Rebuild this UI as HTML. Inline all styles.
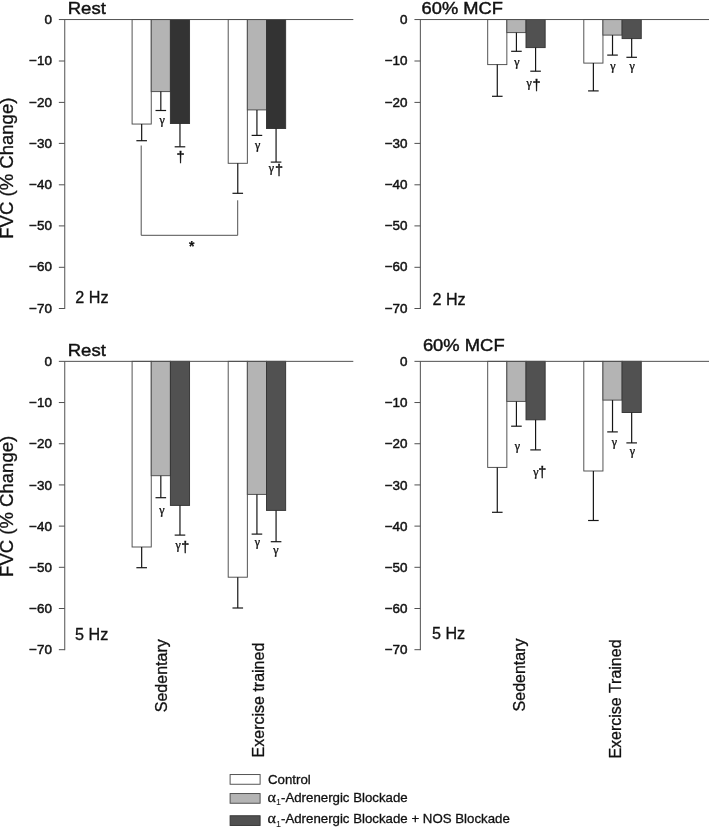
<!DOCTYPE html>
<html lang="en">
<head>
<meta charset="utf-8">
<title>FVC (% Change) figure</title>
<style>
html, body { margin: 0; padding: 0; background: #ffffff; }
body { width: 709px; height: 828px; overflow: hidden; }
svg { display: block; }
text { white-space: pre; }
</style>
</head>
<body>
<svg width="709" height="828" viewBox="0 0 709 828">
<rect x="0" y="0" width="709" height="828" fill="#ffffff"/>
<rect x="132.1" y="19.55" width="19.15" height="104.5" fill="#ffffff" stroke="#4c4c4c" stroke-width="0.95"/>
<rect x="151.25" y="19.55" width="19.15" height="72.05" fill="#b4b4b4" stroke="#4c4c4c" stroke-width="0.95"/>
<rect x="170.4" y="19.55" width="19.15" height="103.95" fill="#333333" stroke="#353535" stroke-width="0.95"/>
<line x1="141.67" y1="124.05" x2="141.67" y2="140.7" stroke="#161616" stroke-width="1.2"/>
<line x1="136.37" y1="140.7" x2="146.97" y2="140.7" stroke="#161616" stroke-width="1.2"/>
<line x1="160.82" y1="91.6" x2="160.82" y2="110.5" stroke="#161616" stroke-width="1.2"/>
<line x1="155.52" y1="110.5" x2="166.12" y2="110.5" stroke="#161616" stroke-width="1.2"/>
<line x1="179.97" y1="123.5" x2="179.97" y2="146.8" stroke="#161616" stroke-width="1.2"/>
<line x1="174.67" y1="146.8" x2="185.27" y2="146.8" stroke="#161616" stroke-width="1.2"/>
<rect x="228.2" y="19.55" width="19.15" height="143.75" fill="#ffffff" stroke="#4c4c4c" stroke-width="0.95"/>
<rect x="247.35" y="19.55" width="19.15" height="90.35" fill="#b4b4b4" stroke="#4c4c4c" stroke-width="0.95"/>
<rect x="266.5" y="19.55" width="19.15" height="108.95" fill="#333333" stroke="#353535" stroke-width="0.95"/>
<line x1="237.77" y1="163.3" x2="237.77" y2="193.3" stroke="#161616" stroke-width="1.2"/>
<line x1="232.47" y1="193.3" x2="243.07" y2="193.3" stroke="#161616" stroke-width="1.2"/>
<line x1="256.93" y1="109.9" x2="256.93" y2="135.4" stroke="#161616" stroke-width="1.2"/>
<line x1="251.62" y1="135.4" x2="262.23" y2="135.4" stroke="#161616" stroke-width="1.2"/>
<line x1="276.07" y1="128.5" x2="276.07" y2="162.1" stroke="#161616" stroke-width="1.2"/>
<line x1="270.77" y1="162.1" x2="281.38" y2="162.1" stroke="#161616" stroke-width="1.2"/>
<line x1="64.75" y1="19.55" x2="64.75" y2="309" stroke="#505050" stroke-width="1"/>
<line x1="58.85" y1="19.55" x2="353.3" y2="19.55" stroke="#505050" stroke-width="1"/>
<line x1="58.85" y1="61" x2="64.75" y2="61" stroke="#505050" stroke-width="1"/>
<line x1="58.85" y1="102.4" x2="64.75" y2="102.4" stroke="#505050" stroke-width="1"/>
<line x1="58.85" y1="143.4" x2="64.75" y2="143.4" stroke="#505050" stroke-width="1"/>
<line x1="58.85" y1="184.8" x2="64.75" y2="184.8" stroke="#505050" stroke-width="1"/>
<line x1="58.85" y1="225.9" x2="64.75" y2="225.9" stroke="#505050" stroke-width="1"/>
<line x1="58.85" y1="267.3" x2="64.75" y2="267.3" stroke="#505050" stroke-width="1"/>
<line x1="58.85" y1="308.5" x2="64.75" y2="308.5" stroke="#505050" stroke-width="1"/>
<text transform="translate(51.9 23.65) scale(1.035 1)" font-family="'Liberation Sans', Arial, Helvetica, sans-serif" font-size="13" font-weight="normal" font-style="normal" text-anchor="end" fill="#111" stroke="#111" stroke-width="0.45">0</text>
<text transform="translate(51.9 65.1) scale(1.035 1)" font-family="'Liberation Sans', Arial, Helvetica, sans-serif" font-size="13" font-weight="normal" font-style="normal" text-anchor="end" fill="#111" stroke="#111" stroke-width="0.45">−10</text>
<text transform="translate(51.9 106.5) scale(1.035 1)" font-family="'Liberation Sans', Arial, Helvetica, sans-serif" font-size="13" font-weight="normal" font-style="normal" text-anchor="end" fill="#111" stroke="#111" stroke-width="0.45">−20</text>
<text transform="translate(51.9 147.5) scale(1.035 1)" font-family="'Liberation Sans', Arial, Helvetica, sans-serif" font-size="13" font-weight="normal" font-style="normal" text-anchor="end" fill="#111" stroke="#111" stroke-width="0.45">−30</text>
<text transform="translate(51.9 188.9) scale(1.035 1)" font-family="'Liberation Sans', Arial, Helvetica, sans-serif" font-size="13" font-weight="normal" font-style="normal" text-anchor="end" fill="#111" stroke="#111" stroke-width="0.45">−40</text>
<text transform="translate(51.9 230) scale(1.035 1)" font-family="'Liberation Sans', Arial, Helvetica, sans-serif" font-size="13" font-weight="normal" font-style="normal" text-anchor="end" fill="#111" stroke="#111" stroke-width="0.45">−50</text>
<text transform="translate(51.9 271.4) scale(1.035 1)" font-family="'Liberation Sans', Arial, Helvetica, sans-serif" font-size="13" font-weight="normal" font-style="normal" text-anchor="end" fill="#111" stroke="#111" stroke-width="0.45">−60</text>
<text transform="translate(51.9 312.6) scale(1.035 1)" font-family="'Liberation Sans', Arial, Helvetica, sans-serif" font-size="13" font-weight="normal" font-style="normal" text-anchor="end" fill="#111" stroke="#111" stroke-width="0.45">−70</text>
<text transform="translate(67.7 13.85) scale(1.086 1)" font-family="'Liberation Sans', Arial, Helvetica, sans-serif" font-size="17.1" font-weight="normal" font-style="normal" text-anchor="start" fill="#111" stroke="#111" stroke-width="0.45">Rest</text>
<text transform="translate(75.3 303) scale(1.01 1)" font-family="'Liberation Sans', Arial, Helvetica, sans-serif" font-size="16" font-weight="normal" font-style="normal" text-anchor="start" fill="#111" stroke="#111" stroke-width="0.3">2 Hz</text>
<rect x="487.7" y="19.55" width="19.15" height="45.05" fill="#ffffff" stroke="#4c4c4c" stroke-width="0.95"/>
<rect x="506.85" y="19.55" width="19.15" height="13.05" fill="#b4b4b4" stroke="#4c4c4c" stroke-width="0.95"/>
<rect x="526" y="19.55" width="19.15" height="28.05" fill="#515151" stroke="#353535" stroke-width="0.95"/>
<line x1="497.28" y1="64.6" x2="497.28" y2="96.3" stroke="#161616" stroke-width="1.2"/>
<line x1="491.98" y1="96.3" x2="502.58" y2="96.3" stroke="#161616" stroke-width="1.2"/>
<line x1="516.43" y1="32.6" x2="516.43" y2="51.3" stroke="#161616" stroke-width="1.2"/>
<line x1="511.13" y1="51.3" x2="521.73" y2="51.3" stroke="#161616" stroke-width="1.2"/>
<line x1="535.58" y1="47.6" x2="535.58" y2="71.2" stroke="#161616" stroke-width="1.2"/>
<line x1="530.28" y1="71.2" x2="540.88" y2="71.2" stroke="#161616" stroke-width="1.2"/>
<rect x="583.8" y="19.55" width="19.15" height="43.55" fill="#ffffff" stroke="#4c4c4c" stroke-width="0.95"/>
<rect x="602.95" y="19.55" width="19.15" height="15.55" fill="#b4b4b4" stroke="#4c4c4c" stroke-width="0.95"/>
<rect x="622.1" y="19.55" width="19.15" height="19.05" fill="#515151" stroke="#353535" stroke-width="0.95"/>
<line x1="593.38" y1="63.1" x2="593.38" y2="90.9" stroke="#161616" stroke-width="1.2"/>
<line x1="588.08" y1="90.9" x2="598.67" y2="90.9" stroke="#161616" stroke-width="1.2"/>
<line x1="612.52" y1="35.1" x2="612.52" y2="55.1" stroke="#161616" stroke-width="1.2"/>
<line x1="607.23" y1="55.1" x2="617.82" y2="55.1" stroke="#161616" stroke-width="1.2"/>
<line x1="631.67" y1="38.6" x2="631.67" y2="57.3" stroke="#161616" stroke-width="1.2"/>
<line x1="626.38" y1="57.3" x2="636.97" y2="57.3" stroke="#161616" stroke-width="1.2"/>
<line x1="420.35" y1="19.55" x2="420.35" y2="309" stroke="#505050" stroke-width="1"/>
<line x1="414.45" y1="19.55" x2="709.5" y2="19.55" stroke="#505050" stroke-width="1"/>
<line x1="414.45" y1="61" x2="420.35" y2="61" stroke="#505050" stroke-width="1"/>
<line x1="414.45" y1="102.4" x2="420.35" y2="102.4" stroke="#505050" stroke-width="1"/>
<line x1="414.45" y1="143.4" x2="420.35" y2="143.4" stroke="#505050" stroke-width="1"/>
<line x1="414.45" y1="184.8" x2="420.35" y2="184.8" stroke="#505050" stroke-width="1"/>
<line x1="414.45" y1="225.9" x2="420.35" y2="225.9" stroke="#505050" stroke-width="1"/>
<line x1="414.45" y1="267.3" x2="420.35" y2="267.3" stroke="#505050" stroke-width="1"/>
<line x1="414.45" y1="308.5" x2="420.35" y2="308.5" stroke="#505050" stroke-width="1"/>
<text transform="translate(407.5 23.65) scale(1.035 1)" font-family="'Liberation Sans', Arial, Helvetica, sans-serif" font-size="13" font-weight="normal" font-style="normal" text-anchor="end" fill="#111" stroke="#111" stroke-width="0.45">0</text>
<text transform="translate(407.5 65.1) scale(1.035 1)" font-family="'Liberation Sans', Arial, Helvetica, sans-serif" font-size="13" font-weight="normal" font-style="normal" text-anchor="end" fill="#111" stroke="#111" stroke-width="0.45">−10</text>
<text transform="translate(407.5 106.5) scale(1.035 1)" font-family="'Liberation Sans', Arial, Helvetica, sans-serif" font-size="13" font-weight="normal" font-style="normal" text-anchor="end" fill="#111" stroke="#111" stroke-width="0.45">−20</text>
<text transform="translate(407.5 147.5) scale(1.035 1)" font-family="'Liberation Sans', Arial, Helvetica, sans-serif" font-size="13" font-weight="normal" font-style="normal" text-anchor="end" fill="#111" stroke="#111" stroke-width="0.45">−30</text>
<text transform="translate(407.5 188.9) scale(1.035 1)" font-family="'Liberation Sans', Arial, Helvetica, sans-serif" font-size="13" font-weight="normal" font-style="normal" text-anchor="end" fill="#111" stroke="#111" stroke-width="0.45">−40</text>
<text transform="translate(407.5 230) scale(1.035 1)" font-family="'Liberation Sans', Arial, Helvetica, sans-serif" font-size="13" font-weight="normal" font-style="normal" text-anchor="end" fill="#111" stroke="#111" stroke-width="0.45">−50</text>
<text transform="translate(407.5 271.4) scale(1.035 1)" font-family="'Liberation Sans', Arial, Helvetica, sans-serif" font-size="13" font-weight="normal" font-style="normal" text-anchor="end" fill="#111" stroke="#111" stroke-width="0.45">−60</text>
<text transform="translate(407.5 312.6) scale(1.035 1)" font-family="'Liberation Sans', Arial, Helvetica, sans-serif" font-size="13" font-weight="normal" font-style="normal" text-anchor="end" fill="#111" stroke="#111" stroke-width="0.45">−70</text>
<text transform="translate(421.6 13.55) scale(1.07 1)" font-family="'Liberation Sans', Arial, Helvetica, sans-serif" font-size="17.1" font-weight="normal" font-style="normal" text-anchor="start" fill="#111" stroke="#111" stroke-width="0.45">60% MCF</text>
<text transform="translate(432.4 305) scale(1.01 1)" font-family="'Liberation Sans', Arial, Helvetica, sans-serif" font-size="16" font-weight="normal" font-style="normal" text-anchor="start" fill="#111" stroke="#111" stroke-width="0.3">2 Hz</text>
<rect x="132.1" y="361.35" width="19.15" height="185.65" fill="#ffffff" stroke="#4c4c4c" stroke-width="0.95"/>
<rect x="151.25" y="361.35" width="19.15" height="114.35" fill="#b4b4b4" stroke="#4c4c4c" stroke-width="0.95"/>
<rect x="170.4" y="361.35" width="19.15" height="144.05" fill="#515151" stroke="#353535" stroke-width="0.95"/>
<line x1="141.67" y1="547" x2="141.67" y2="567.7" stroke="#161616" stroke-width="1.2"/>
<line x1="136.37" y1="567.7" x2="146.97" y2="567.7" stroke="#161616" stroke-width="1.2"/>
<line x1="160.82" y1="475.7" x2="160.82" y2="497.7" stroke="#161616" stroke-width="1.2"/>
<line x1="155.52" y1="497.7" x2="166.12" y2="497.7" stroke="#161616" stroke-width="1.2"/>
<line x1="179.97" y1="505.4" x2="179.97" y2="535.1" stroke="#161616" stroke-width="1.2"/>
<line x1="174.67" y1="535.1" x2="185.27" y2="535.1" stroke="#161616" stroke-width="1.2"/>
<rect x="228.2" y="361.35" width="19.15" height="215.85" fill="#ffffff" stroke="#4c4c4c" stroke-width="0.95"/>
<rect x="247.35" y="361.35" width="19.15" height="133.05" fill="#b4b4b4" stroke="#4c4c4c" stroke-width="0.95"/>
<rect x="266.5" y="361.35" width="19.15" height="149.05" fill="#515151" stroke="#353535" stroke-width="0.95"/>
<line x1="237.77" y1="577.2" x2="237.77" y2="608" stroke="#161616" stroke-width="1.2"/>
<line x1="232.47" y1="608" x2="243.07" y2="608" stroke="#161616" stroke-width="1.2"/>
<line x1="256.93" y1="494.4" x2="256.93" y2="534.1" stroke="#161616" stroke-width="1.2"/>
<line x1="251.62" y1="534.1" x2="262.23" y2="534.1" stroke="#161616" stroke-width="1.2"/>
<line x1="276.07" y1="510.4" x2="276.07" y2="541.7" stroke="#161616" stroke-width="1.2"/>
<line x1="270.77" y1="541.7" x2="281.38" y2="541.7" stroke="#161616" stroke-width="1.2"/>
<line x1="64.75" y1="361.35" x2="64.75" y2="650.2" stroke="#505050" stroke-width="1"/>
<line x1="58.85" y1="361.35" x2="353.3" y2="361.35" stroke="#505050" stroke-width="1"/>
<line x1="58.85" y1="402.54" x2="64.75" y2="402.54" stroke="#505050" stroke-width="1"/>
<line x1="58.85" y1="443.74" x2="64.75" y2="443.74" stroke="#505050" stroke-width="1"/>
<line x1="58.85" y1="484.93" x2="64.75" y2="484.93" stroke="#505050" stroke-width="1"/>
<line x1="58.85" y1="526.12" x2="64.75" y2="526.12" stroke="#505050" stroke-width="1"/>
<line x1="58.85" y1="567.31" x2="64.75" y2="567.31" stroke="#505050" stroke-width="1"/>
<line x1="58.85" y1="608.51" x2="64.75" y2="608.51" stroke="#505050" stroke-width="1"/>
<line x1="58.85" y1="649.7" x2="64.75" y2="649.7" stroke="#505050" stroke-width="1"/>
<text transform="translate(51.9 365.95) scale(1.035 1)" font-family="'Liberation Sans', Arial, Helvetica, sans-serif" font-size="13" font-weight="normal" font-style="normal" text-anchor="end" fill="#111" stroke="#111" stroke-width="0.45">0</text>
<text transform="translate(51.9 407.14) scale(1.035 1)" font-family="'Liberation Sans', Arial, Helvetica, sans-serif" font-size="13" font-weight="normal" font-style="normal" text-anchor="end" fill="#111" stroke="#111" stroke-width="0.45">−10</text>
<text transform="translate(51.9 448.34) scale(1.035 1)" font-family="'Liberation Sans', Arial, Helvetica, sans-serif" font-size="13" font-weight="normal" font-style="normal" text-anchor="end" fill="#111" stroke="#111" stroke-width="0.45">−20</text>
<text transform="translate(51.9 489.53) scale(1.035 1)" font-family="'Liberation Sans', Arial, Helvetica, sans-serif" font-size="13" font-weight="normal" font-style="normal" text-anchor="end" fill="#111" stroke="#111" stroke-width="0.45">−30</text>
<text transform="translate(51.9 530.72) scale(1.035 1)" font-family="'Liberation Sans', Arial, Helvetica, sans-serif" font-size="13" font-weight="normal" font-style="normal" text-anchor="end" fill="#111" stroke="#111" stroke-width="0.45">−40</text>
<text transform="translate(51.9 571.91) scale(1.035 1)" font-family="'Liberation Sans', Arial, Helvetica, sans-serif" font-size="13" font-weight="normal" font-style="normal" text-anchor="end" fill="#111" stroke="#111" stroke-width="0.45">−50</text>
<text transform="translate(51.9 613.11) scale(1.035 1)" font-family="'Liberation Sans', Arial, Helvetica, sans-serif" font-size="13" font-weight="normal" font-style="normal" text-anchor="end" fill="#111" stroke="#111" stroke-width="0.45">−60</text>
<text transform="translate(51.9 654.3) scale(1.035 1)" font-family="'Liberation Sans', Arial, Helvetica, sans-serif" font-size="13" font-weight="normal" font-style="normal" text-anchor="end" fill="#111" stroke="#111" stroke-width="0.45">−70</text>
<text transform="translate(67.7 355.75) scale(1.086 1)" font-family="'Liberation Sans', Arial, Helvetica, sans-serif" font-size="17.1" font-weight="normal" font-style="normal" text-anchor="start" fill="#111" stroke="#111" stroke-width="0.45">Rest</text>
<text transform="translate(75 640.4) scale(1.01 1)" font-family="'Liberation Sans', Arial, Helvetica, sans-serif" font-size="16" font-weight="normal" font-style="normal" text-anchor="start" fill="#111" stroke="#111" stroke-width="0.3">5 Hz</text>
<rect x="487.7" y="361.35" width="19.15" height="106.05" fill="#ffffff" stroke="#4c4c4c" stroke-width="0.95"/>
<rect x="506.85" y="361.35" width="19.15" height="40.05" fill="#b4b4b4" stroke="#4c4c4c" stroke-width="0.95"/>
<rect x="526" y="361.35" width="19.15" height="58.45" fill="#515151" stroke="#353535" stroke-width="0.95"/>
<line x1="497.28" y1="467.4" x2="497.28" y2="512.3" stroke="#161616" stroke-width="1.2"/>
<line x1="491.98" y1="512.3" x2="502.58" y2="512.3" stroke="#161616" stroke-width="1.2"/>
<line x1="516.43" y1="401.4" x2="516.43" y2="426.2" stroke="#161616" stroke-width="1.2"/>
<line x1="511.13" y1="426.2" x2="521.73" y2="426.2" stroke="#161616" stroke-width="1.2"/>
<line x1="535.58" y1="419.8" x2="535.58" y2="449.9" stroke="#161616" stroke-width="1.2"/>
<line x1="530.28" y1="449.9" x2="540.88" y2="449.9" stroke="#161616" stroke-width="1.2"/>
<rect x="583.8" y="361.35" width="19.15" height="109.65" fill="#ffffff" stroke="#4c4c4c" stroke-width="0.95"/>
<rect x="602.95" y="361.35" width="19.15" height="38.75" fill="#b4b4b4" stroke="#4c4c4c" stroke-width="0.95"/>
<rect x="622.1" y="361.35" width="19.15" height="51.15" fill="#515151" stroke="#353535" stroke-width="0.95"/>
<line x1="593.38" y1="471" x2="593.38" y2="520.5" stroke="#161616" stroke-width="1.2"/>
<line x1="588.08" y1="520.5" x2="598.67" y2="520.5" stroke="#161616" stroke-width="1.2"/>
<line x1="612.52" y1="400.1" x2="612.52" y2="431.9" stroke="#161616" stroke-width="1.2"/>
<line x1="607.23" y1="431.9" x2="617.82" y2="431.9" stroke="#161616" stroke-width="1.2"/>
<line x1="631.67" y1="412.5" x2="631.67" y2="442.9" stroke="#161616" stroke-width="1.2"/>
<line x1="626.38" y1="442.9" x2="636.97" y2="442.9" stroke="#161616" stroke-width="1.2"/>
<line x1="420.35" y1="361.35" x2="420.35" y2="650.2" stroke="#505050" stroke-width="1"/>
<line x1="414.45" y1="361.35" x2="709.5" y2="361.35" stroke="#505050" stroke-width="1"/>
<line x1="414.45" y1="402.54" x2="420.35" y2="402.54" stroke="#505050" stroke-width="1"/>
<line x1="414.45" y1="443.74" x2="420.35" y2="443.74" stroke="#505050" stroke-width="1"/>
<line x1="414.45" y1="484.93" x2="420.35" y2="484.93" stroke="#505050" stroke-width="1"/>
<line x1="414.45" y1="526.12" x2="420.35" y2="526.12" stroke="#505050" stroke-width="1"/>
<line x1="414.45" y1="567.31" x2="420.35" y2="567.31" stroke="#505050" stroke-width="1"/>
<line x1="414.45" y1="608.51" x2="420.35" y2="608.51" stroke="#505050" stroke-width="1"/>
<line x1="414.45" y1="649.7" x2="420.35" y2="649.7" stroke="#505050" stroke-width="1"/>
<text transform="translate(407.5 365.95) scale(1.035 1)" font-family="'Liberation Sans', Arial, Helvetica, sans-serif" font-size="13" font-weight="normal" font-style="normal" text-anchor="end" fill="#111" stroke="#111" stroke-width="0.45">0</text>
<text transform="translate(407.5 407.14) scale(1.035 1)" font-family="'Liberation Sans', Arial, Helvetica, sans-serif" font-size="13" font-weight="normal" font-style="normal" text-anchor="end" fill="#111" stroke="#111" stroke-width="0.45">−10</text>
<text transform="translate(407.5 448.34) scale(1.035 1)" font-family="'Liberation Sans', Arial, Helvetica, sans-serif" font-size="13" font-weight="normal" font-style="normal" text-anchor="end" fill="#111" stroke="#111" stroke-width="0.45">−20</text>
<text transform="translate(407.5 489.53) scale(1.035 1)" font-family="'Liberation Sans', Arial, Helvetica, sans-serif" font-size="13" font-weight="normal" font-style="normal" text-anchor="end" fill="#111" stroke="#111" stroke-width="0.45">−30</text>
<text transform="translate(407.5 530.72) scale(1.035 1)" font-family="'Liberation Sans', Arial, Helvetica, sans-serif" font-size="13" font-weight="normal" font-style="normal" text-anchor="end" fill="#111" stroke="#111" stroke-width="0.45">−40</text>
<text transform="translate(407.5 571.91) scale(1.035 1)" font-family="'Liberation Sans', Arial, Helvetica, sans-serif" font-size="13" font-weight="normal" font-style="normal" text-anchor="end" fill="#111" stroke="#111" stroke-width="0.45">−50</text>
<text transform="translate(407.5 613.11) scale(1.035 1)" font-family="'Liberation Sans', Arial, Helvetica, sans-serif" font-size="13" font-weight="normal" font-style="normal" text-anchor="end" fill="#111" stroke="#111" stroke-width="0.45">−60</text>
<text transform="translate(407.5 654.3) scale(1.035 1)" font-family="'Liberation Sans', Arial, Helvetica, sans-serif" font-size="13" font-weight="normal" font-style="normal" text-anchor="end" fill="#111" stroke="#111" stroke-width="0.45">−70</text>
<text transform="translate(422.9 350.7) scale(1.075 1)" font-family="'Liberation Sans', Arial, Helvetica, sans-serif" font-size="17.1" font-weight="normal" font-style="normal" text-anchor="start" fill="#111" stroke="#111" stroke-width="0.45">60% MCF</text>
<text transform="translate(431.9 639.3) scale(1.01 1)" font-family="'Liberation Sans', Arial, Helvetica, sans-serif" font-size="16" font-weight="normal" font-style="normal" text-anchor="start" fill="#111" stroke="#111" stroke-width="0.3">5 Hz</text>
<polyline points="141.2,145.5 141.2,235.3 237.7,235.3 237.7,200.3" fill="none" stroke="#505050" stroke-width="1"/>
<text transform="translate(191.7 251) scale(1.0 1)" font-family="'Liberation Sans', Arial, Helvetica, sans-serif" font-size="14" font-weight="bold" font-style="normal" text-anchor="middle" fill="#111" stroke="#111" stroke-width="0.2">*</text>
<text transform="translate(159.98 124) skewX(8)" font-family="'Liberation Serif', 'Times New Roman', serif" font-size="13.0" font-style="italic" fill="#111" stroke="#111" stroke-width="0.3">γ</text>
<text transform="translate(176.62 161.87) scale(1.0 1)" font-family="'Liberation Sans', Arial, Helvetica, sans-serif" font-size="14.5" font-weight="normal" font-style="normal" text-anchor="start" fill="#111" stroke="#111" stroke-width="0.35">†</text>
<text transform="translate(255.53 148.75) skewX(8)" font-family="'Liberation Serif', 'Times New Roman', serif" font-size="13.0" font-style="italic" fill="#111" stroke="#111" stroke-width="0.3">γ</text>
<text transform="translate(269.13 171.95) skewX(8)" font-family="'Liberation Serif', 'Times New Roman', serif" font-size="13.0" font-style="italic" fill="#111" stroke="#111" stroke-width="0.3">γ</text>
<text transform="translate(275.07 175.17) scale(1.0 1)" font-family="'Liberation Sans', Arial, Helvetica, sans-serif" font-size="14.5" font-weight="normal" font-style="normal" text-anchor="start" fill="#111" stroke="#111" stroke-width="0.35">†</text>
<text transform="translate(514.68 66.15) skewX(8)" font-family="'Liberation Serif', 'Times New Roman', serif" font-size="13.0" font-style="italic" fill="#111" stroke="#111" stroke-width="0.3">γ</text>
<text transform="translate(526.88 86.7) skewX(8)" font-family="'Liberation Serif', 'Times New Roman', serif" font-size="13.0" font-style="italic" fill="#111" stroke="#111" stroke-width="0.3">γ</text>
<text transform="translate(532.52 89.77) scale(1.0 1)" font-family="'Liberation Sans', Arial, Helvetica, sans-serif" font-size="14.5" font-weight="normal" font-style="normal" text-anchor="start" fill="#111" stroke="#111" stroke-width="0.35">†</text>
<text transform="translate(610.83 69.95) skewX(8)" font-family="'Liberation Serif', 'Times New Roman', serif" font-size="13.0" font-style="italic" fill="#111" stroke="#111" stroke-width="0.3">γ</text>
<text transform="translate(629.98 69.95) skewX(8)" font-family="'Liberation Serif', 'Times New Roman', serif" font-size="13.0" font-style="italic" fill="#111" stroke="#111" stroke-width="0.3">γ</text>
<text transform="translate(159.78 513.9) skewX(8)" font-family="'Liberation Serif', 'Times New Roman', serif" font-size="13.0" font-style="italic" fill="#111" stroke="#111" stroke-width="0.3">γ</text>
<text transform="translate(175.93 548.9) skewX(8)" font-family="'Liberation Serif', 'Times New Roman', serif" font-size="13.0" font-style="italic" fill="#111" stroke="#111" stroke-width="0.3">γ</text>
<text transform="translate(181.17 551.87) scale(1.0 1)" font-family="'Liberation Sans', Arial, Helvetica, sans-serif" font-size="14.5" font-weight="normal" font-style="normal" text-anchor="start" fill="#111" stroke="#111" stroke-width="0.35">†</text>
<text transform="translate(255.23 546.25) skewX(8)" font-family="'Liberation Serif', 'Times New Roman', serif" font-size="13.0" font-style="italic" fill="#111" stroke="#111" stroke-width="0.3">γ</text>
<text transform="translate(273.83 554.1) skewX(8)" font-family="'Liberation Serif', 'Times New Roman', serif" font-size="13.0" font-style="italic" fill="#111" stroke="#111" stroke-width="0.3">γ</text>
<text transform="translate(515.23 449.55) skewX(8)" font-family="'Liberation Serif', 'Times New Roman', serif" font-size="13.0" font-style="italic" fill="#111" stroke="#111" stroke-width="0.3">γ</text>
<text transform="translate(533.73 475.6) skewX(8)" font-family="'Liberation Serif', 'Times New Roman', serif" font-size="13.0" font-style="italic" fill="#111" stroke="#111" stroke-width="0.3">γ</text>
<text transform="translate(538.37 477.32) scale(1.0 1)" font-family="'Liberation Sans', Arial, Helvetica, sans-serif" font-size="14.5" font-weight="normal" font-style="normal" text-anchor="start" fill="#111" stroke="#111" stroke-width="0.35">†</text>
<text transform="translate(612.28 445.55) skewX(8)" font-family="'Liberation Serif', 'Times New Roman', serif" font-size="13.0" font-style="italic" fill="#111" stroke="#111" stroke-width="0.3">γ</text>
<text transform="translate(630.13 454.95) skewX(8)" font-family="'Liberation Serif', 'Times New Roman', serif" font-size="13.0" font-style="italic" fill="#111" stroke="#111" stroke-width="0.3">γ</text>
<text transform="translate(13.4 238.7) rotate(-90) scale(1.048 1.0)" font-family="'Liberation Sans', Arial, Helvetica, sans-serif" font-size="17.7" text-anchor="start" fill="#111" stroke="#111" stroke-width="0.3">FVC (% Change)</text>
<text transform="translate(13.4 576.9) rotate(-90) scale(1.048 1.0)" font-family="'Liberation Sans', Arial, Helvetica, sans-serif" font-size="17.7" text-anchor="start" fill="#111" stroke="#111" stroke-width="0.3">FVC (% Change)</text>
<text transform="translate(167.4 712.2) rotate(-90) scale(1.02 1.0)" font-family="'Liberation Sans', Arial, Helvetica, sans-serif" font-size="15.7" text-anchor="start" fill="#111" stroke="#111" stroke-width="0.3">Sedentary</text>
<text transform="translate(264.2 757.4) rotate(-90) scale(1.0 1.0)" font-family="'Liberation Sans', Arial, Helvetica, sans-serif" font-size="16" text-anchor="start" fill="#111" stroke="#111" stroke-width="0.3">Exercise trained</text>
<text transform="translate(524.5 711.4) rotate(-90) scale(1.02 1.0)" font-family="'Liberation Sans', Arial, Helvetica, sans-serif" font-size="15.7" text-anchor="start" fill="#111" stroke="#111" stroke-width="0.3">Sedentary</text>
<text transform="translate(621.2 758.6) rotate(-90) scale(1.0 1.0)" font-family="'Liberation Sans', Arial, Helvetica, sans-serif" font-size="16" text-anchor="start" fill="#111" stroke="#111" stroke-width="0.3">Exercise Trained</text>
<rect x="230.1" y="774.55" width="30" height="9.7" fill="#ffffff" stroke="#4c4c4c" stroke-width="0.95"/>
<rect x="230.1" y="793.55" width="30" height="9.7" fill="#b4b4b4" stroke="#4c4c4c" stroke-width="0.95"/>
<rect x="230.1" y="815.75" width="30" height="9.7" fill="#515151" stroke="#353535" stroke-width="0.95"/>
<text transform="translate(268 783.5) scale(1.064 1)" font-family="'Liberation Sans', Arial, Helvetica, sans-serif" font-size="12.5" font-weight="normal" font-style="normal" text-anchor="start" fill="#111" stroke="#111" stroke-width="0.3">Control</text>
<text transform="translate(267.6 802.1) scale(1.062 1)" font-family="'Liberation Sans', Arial, Helvetica, sans-serif" font-size="12.5" font-weight="normal" font-style="normal" text-anchor="start" fill="#111" stroke="#111" stroke-width="0.3"><tspan font-family="'Liberation Serif', 'Times New Roman', serif" font-size="15">α</tspan><tspan font-size="8.5" dy="3.2" stroke-width="0">1</tspan><tspan dy="-3.2">-Adrenergic Blockade</tspan></text>
<text transform="translate(267.6 823.3) scale(1.062 1)" font-family="'Liberation Sans', Arial, Helvetica, sans-serif" font-size="12.5" font-weight="normal" font-style="normal" text-anchor="start" fill="#111" stroke="#111" stroke-width="0.3"><tspan font-family="'Liberation Serif', 'Times New Roman', serif" font-size="15">α</tspan><tspan font-size="8.5" dy="3.2" stroke-width="0">1</tspan><tspan dy="-3.2">-Adrenergic Blockade + NOS Blockade</tspan></text>
</svg>
</body>
</html>
